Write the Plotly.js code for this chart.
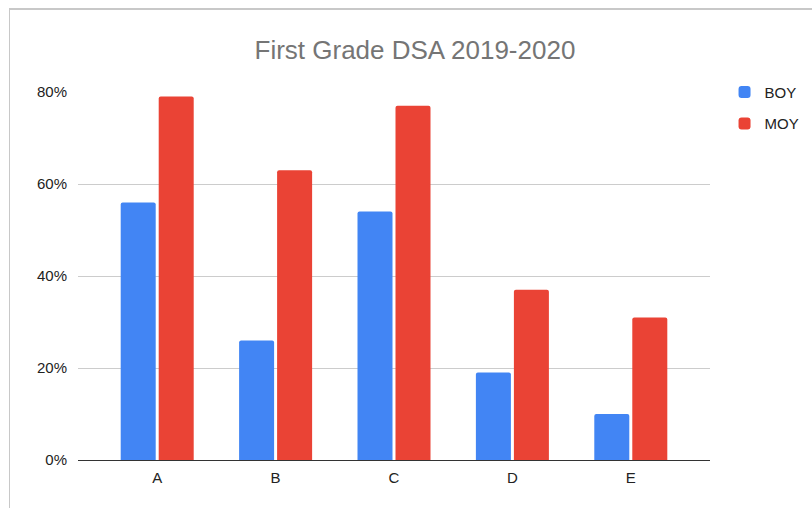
<!DOCTYPE html>
<html>
<head>
<meta charset="utf-8">
<script src="https://cdn.plot.ly/plotly-3.0.1.min.js"></script>
<style>
  html, body { margin: 0; padding: 0; background: #fff; }
  #wrap { position: relative; width: 812px; height: 508px; overflow: hidden; }
  #chart { width: 812px; height: 508px; }
  #frame { position: absolute; left: 9px; top: 8px; width: 900px; height: 600px;
           border-top: 2px solid #c8c8c8; border-left: 1px solid #c8c8c8; pointer-events: none; box-sizing: border-box; }
</style>
</head>
<body>
<div id="wrap">
  <div id="chart"></div>
  <div id="frame"></div>
</div>
<script>
// Data
const categories = ["A", "B", "C", "D", "E"];
const boyValues = [56, 26, 54, 19, 10];
const moyValues = [79, 63, 77, 37, 31];
const yTickVals = [0, 20, 40, 60, 80];
const yTickText = ["0%", "20%", "40%", "60%", "80%"];
const seriesNames = ["BOY", "MOY"];
const chartTitle = "First Grade DSA 2019-2020";

const FONT = "Liberation Sans, Arial, Helvetica, sans-serif";

const traces = [
  {
    type: "bar", name: seriesNames[0], x: categories, y: boyValues,
    legendgroup: "g1",
    marker: { color: "#4285F4", cornerradius: 2 },
    hoverinfo: "x+y"
  },
  {
    type: "bar", name: seriesNames[1], x: categories, y: moyValues,
    legendgroup: "g2",
    marker: { color: "#EA4335", cornerradius: 2 },
    hoverinfo: "x+y"
  }
];

const layout = {
  width: 812, height: 508,
  margin: { l: 78, r: 102, t: 92, b: 48, pad: 0, autoexpand: false },
  paper_bgcolor: "#ffffff", plot_bgcolor: "#ffffff",
  font: { family: FONT, color: "#222222", size: 15 },
  title: {
    text: chartTitle,
    font: { family: FONT, size: 26, color: "#757575" },
    xref: "container", x: 0.511, xanchor: "center",
    yref: "container", y: 1 - 50 / 508, yanchor: "middle"
  },
  barmode: "group",
  bargap: 0.358,
  bargroupgap: 0.079,
  xaxis: {
    type: "category",
    range: [-0.669, 4.669],
    showgrid: false,
    showline: true, linecolor: "#333333", linewidth: 1,
    zeroline: false,
    ticks: "",
    ticklabelstandoff: 4,
    tickfont: { family: FONT, size: 15, color: "#222222" },
    fixedrange: true
  },
  yaxis: {
    range: [0, 80],
    tickmode: "array",
    tickvals: yTickVals,
    ticktext: yTickText,
    showgrid: true, gridcolor: "#cccccc", gridwidth: 1,
    zeroline: false,
    showline: false,
    ticks: "",
    ticklabelstandoff: 10,
    tickfont: { family: FONT, size: 15, color: "#222222" },
    fixedrange: true
  },
  showlegend: true,
  legend: {
    x: 1.023, xanchor: "left",
    y: 1.044, yanchor: "top",
    traceorder: "grouped",
    tracegroupgap: 9,
    font: { family: FONT, size: 15, color: "#222222" },
    bgcolor: "rgba(0,0,0,0)",
    borderwidth: 0
  }
};

Plotly.newPlot("chart", traces, layout, { displayModeBar: false, staticPlot: true });
</script>
</body>
</html>
